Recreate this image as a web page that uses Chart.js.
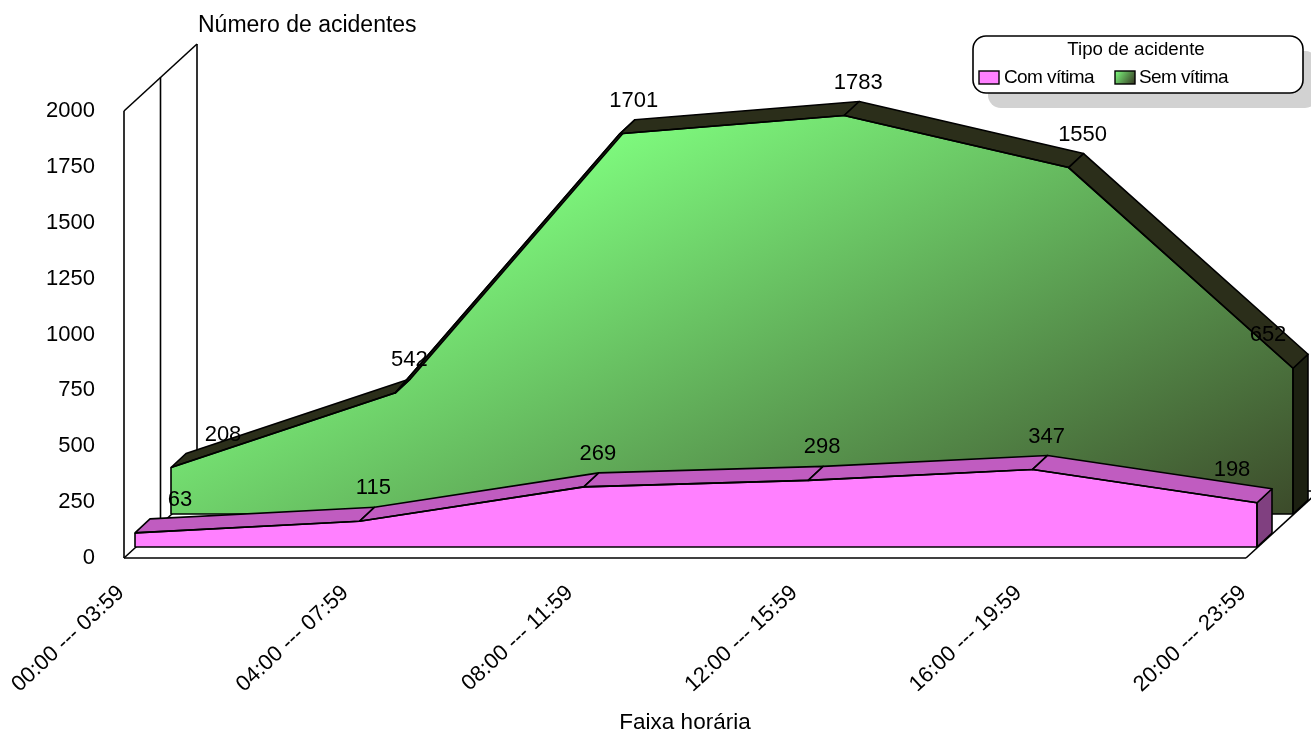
<!DOCTYPE html>
<html>
<head>
<meta charset="utf-8">
<title>Acidentes por faixa horária</title>
<script src="https://cdn.jsdelivr.net/npm/chart.js@4"></script>
<style>
  html, body { margin: 0; padding: 0; background: #fff; }
  canvas { display: block; }
</style>
</head>
<body>
<canvas id="myChart" width="1311" height="733"></canvas>
<script>
const categories = ['00:00 --- 03:59', '04:00 --- 07:59', '08:00 --- 11:59', '12:00 --- 15:59', '16:00 --- 19:59', '20:00 --- 23:59'];
const comVitima = [63, 115, 269, 298, 347, 198];
const semVitima = [208, 542, 1701, 1783, 1550, 652];
const seriesNames = ['Com vítima', 'Sem vítima'];
const legendTitle = 'Tipo de acidente';
const yTitle = 'Número de acidentes';
const xTitle = 'Faixa horária';

const FONT = '"Liberation Sans", Arial, sans-serif';
const PLOT_W = 1122, PLOT_H = 447, Y_MAX = 2000;
const LAST = categories.length - 1;
const STEP = PLOT_W / LAST;
const UNIT = PLOT_H / Y_MAX;
// chart area runs on to the canvas edge, the filler clips to it and the series stick out past the last category
const X_MAX = LAST + 65 / STEP;
// the 3d look: how far each series sits behind the front of the floor
const WALL = {dx: 73, dy: 67};
const FRONT = [{dx: 11, dy: 11}, {dx: 47, dy: 44}];
const DEPTH = {dx: 15, dy: 14};
const RIBBON = ['#c05cc0', '#2b2e1a'];
const SIDE = ['#804080', '#1c2011'];
const FIRST_LABEL_SHIFT = [30, 37];

const toPoints = (vals) => vals.map((v, i) => ({x: i, y: v}));

function hiddenX(f) {
  return {type: 'linear', display: false, min: -f.dx / STEP, max: X_MAX - f.dx / STEP};
}
function hiddenY(f) {
  return {type: 'linear', display: false, min: -f.dy / UNIT, max: Y_MAX - f.dy / UNIT};
}

function greenGradient(context) {
  const chart = context.chart;
  if (!chart.chartArea) return '#80ff80';
  const x0 = chart.scales.xSem.getPixelForValue(0);
  const w = chart.scales.xSem.getPixelForValue(LAST) - x0;
  const yTop = chart.scales.ySem.getPixelForValue(Math.max(...semVitima));
  const h = chart.scales.ySem.getPixelForValue(0) - yTop;
  const g = chart.ctx.createLinearGradient(x0 + w * 0.078, yTop + h * 0.437, x0 + w * 0.375, yTop + h * 2.116);
  g.addColorStop(0, '#80ff80');
  g.addColorStop(1, '#33331f');
  return g;
}

function line(ctx, x1, y1, x2, y2) {
  ctx.beginPath();
  ctx.moveTo(x1, y1);
  ctx.lineTo(x2, y2);
  ctx.stroke();
}

function quad(ctx, pts, fill) {
  ctx.beginPath();
  pts.forEach((p, i) => i ? ctx.lineTo(p[0], p[1]) : ctx.moveTo(p[0], p[1]));
  ctx.closePath();
  ctx.fillStyle = fill;
  ctx.fill();
  ctx.stroke();
}

const depthPlugin = {
  id: 'depth',
  beforeDatasetsDraw(chart) {
    // back walls and floor
    const ctx = chart.ctx, a = chart.chartArea;
    ctx.save();
    ctx.strokeStyle = '#000';
    ctx.lineWidth = 1.6;
    const l = a.left, r = chart.scales.x.getPixelForValue(LAST), t = a.top, b = a.bottom;
    line(ctx, l, t, l, b);
    line(ctx, l + WALL.dx / 2, t - WALL.dy / 2, l + WALL.dx / 2, b - WALL.dy / 2);
    line(ctx, l + WALL.dx, t - WALL.dy, l + WALL.dx, b - WALL.dy);
    line(ctx, l, t, l + WALL.dx, t - WALL.dy);
    line(ctx, l, b, r, b);
    line(ctx, l, b, l + WALL.dx, b - WALL.dy);
    line(ctx, r, b, r + WALL.dx, b - WALL.dy);
    line(ctx, l + WALL.dx, b - WALL.dy, r + WALL.dx, b - WALL.dy);
    ctx.restore();
  },
  beforeDatasetDraw(chart, args) {
    // top ribbon and right hand side of the series, behind its front face
    const ctx = chart.ctx, pts = chart.getDatasetMeta(args.index).data;
    const base = chart.scales[args.index ? 'ySem' : 'yCom'].getPixelForValue(0);
    ctx.save();
    ctx.strokeStyle = '#000';
    ctx.lineWidth = 1.6;
    ctx.lineJoin = 'round';
    const last = pts[pts.length - 1];
    quad(ctx, [[last.x, last.y], [last.x + DEPTH.dx, last.y - DEPTH.dy], [last.x + DEPTH.dx, base - DEPTH.dy], [last.x, base]], SIDE[args.index]);
    for (let i = 0; i < pts.length - 1; i++) {
      const p = pts[i], q = pts[i + 1];
      quad(ctx, [[p.x, p.y], [q.x, q.y], [q.x + DEPTH.dx, q.y - DEPTH.dy], [p.x + DEPTH.dx, p.y - DEPTH.dy]], RIBBON[args.index]);
    }
    ctx.restore();
  },
  afterDatasetDraw(chart, args) {
    const ctx = chart.ctx, pts = chart.getDatasetMeta(args.index).data;
    const base = chart.scales[args.index ? 'ySem' : 'yCom'].getPixelForValue(0);
    ctx.save();
    ctx.strokeStyle = '#000';
    ctx.lineWidth = 1.6;
    line(ctx, pts[0].x, pts[0].y, pts[0].x, base);
    line(ctx, pts[0].x, base, pts[pts.length - 1].x, base);
    line(ctx, pts[pts.length - 1].x, pts[pts.length - 1].y, pts[pts.length - 1].x, base);
    ctx.restore();
  },
  afterDatasetsDraw(chart) {
    const ctx = chart.ctx;
    ctx.save();
    ctx.fillStyle = '#000';
    ctx.font = '22px ' + FONT;
    ctx.textAlign = 'center';
    ctx.textBaseline = 'middle';
    chart.data.datasets.forEach((ds, d) => {
      chart.getDatasetMeta(d).data.forEach((p, i) => {
        let shift = -1;
        if (i === 0) shift = FIRST_LABEL_SHIFT[d];
        if (i === LAST) shift = -40;
        ctx.fillText(String(ds.data[i].y), p.x + DEPTH.dx + shift, p.y - DEPTH.dy - 19);
      });
    });
    ctx.restore();
  },
  afterDraw(chart) {
    const ctx = chart.ctx;
    ctx.save();
    ctx.fillStyle = '#000';
    ctx.font = '23px ' + FONT;
    ctx.textBaseline = 'middle';
    ctx.fillText(yTitle, 198, 26);
    ctx.font = '22.5px ' + FONT;
    ctx.textAlign = 'center';
    ctx.fillText(xTitle, (chart.scales.x.getPixelForValue(0) + chart.scales.x.getPixelForValue(LAST)) / 2, 723);

    // legend box with its shadow
    ctx.beginPath();
    ctx.roundRect(988, 51, 330, 57, 13);
    ctx.fillStyle = '#d2d2d2';
    ctx.fill();
    ctx.beginPath();
    ctx.roundRect(973, 36, 330, 57, 13);
    ctx.fillStyle = '#fff';
    ctx.fill();
    ctx.strokeStyle = '#000';
    ctx.lineWidth = 1.6;
    ctx.stroke();

    ctx.fillStyle = '#000';
    ctx.font = '18.7px ' + FONT;
    ctx.textAlign = 'center';
    ctx.fillText(legendTitle, 1136, 50);
    ctx.textAlign = 'left';
    ctx.font = '19px ' + FONT;
    ctx.letterSpacing = '-0.6px';
    ctx.fillText(seriesNames[0], 1004, 78);
    ctx.fillText(seriesNames[1], 1139, 78);
    ctx.letterSpacing = '0px';

    ctx.lineWidth = 1.4;
    ctx.fillStyle = '#ff80ff';
    ctx.fillRect(979, 71, 20, 13);
    ctx.strokeRect(979, 71, 20, 13);
    const g = ctx.createLinearGradient(1115, 71, 1135, 84);
    g.addColorStop(0, '#80ff80');
    g.addColorStop(1, '#33331f');
    ctx.fillStyle = g;
    ctx.fillRect(1115, 71, 20, 13);
    ctx.strokeRect(1115, 71, 20, 13);
    ctx.restore();
  }
};

new Chart(document.getElementById('myChart').getContext('2d'), {
  type: 'line',
  data: {
    datasets: [
      {
        label: seriesNames[0],
        data: toPoints(comVitima),
        xAxisID: 'xCom',
        yAxisID: 'yCom',
        backgroundColor: '#ff80ff',
        borderColor: '#000',
        borderWidth: 1.6,
        fill: 'origin',
        tension: 0,
        pointRadius: 0,
        clip: false
      },
      {
        label: seriesNames[1],
        data: toPoints(semVitima),
        xAxisID: 'xSem',
        yAxisID: 'ySem',
        backgroundColor: greenGradient,
        borderColor: '#000',
        borderWidth: 1.6,
        fill: 'origin',
        tension: 0,
        pointRadius: 0,
        clip: false
      }
    ]
  },
  options: {
    responsive: false,
    animation: false,
    layout: {padding: {top: 111, right: 0, bottom: 0, left: 0}},
    plugins: {legend: {display: false}, tooltip: {enabled: false}},
    scales: {
      x: {
        type: 'linear',
        min: 0,
        max: X_MAX,
        grid: {display: false},
        border: {display: false},
        afterBuildTicks: (s) => { s.ticks = s.ticks.filter((t) => Number.isInteger(t.value)); },
        afterFit: (s) => { s.height = 175; s.paddingLeft = 0; s.paddingRight = 0; },
        ticks: {
          stepSize: 1,
          autoSkip: false,
          minRotation: 43,
          maxRotation: 43,
          labelOffset: -3,
          padding: 14,
          color: '#000',
          font: {family: FONT, size: 22},
          callback: (v) => categories[v]
        }
      },
      y: {
        min: 0,
        max: Y_MAX,
        grid: {display: false},
        border: {display: false},
        afterFit: (s) => { s.width = 124; },
        ticks: {
          stepSize: 250,
          padding: 21,
          color: '#000',
          font: {family: FONT, size: 22},
          callback: (v) => String(v)
        }
      },
      xCom: hiddenX(FRONT[0]),
      yCom: hiddenY(FRONT[0]),
      xSem: hiddenX(FRONT[1]),
      ySem: hiddenY(FRONT[1])
    }
  },
  plugins: [depthPlugin]
});
</script>
</body>
</html>
